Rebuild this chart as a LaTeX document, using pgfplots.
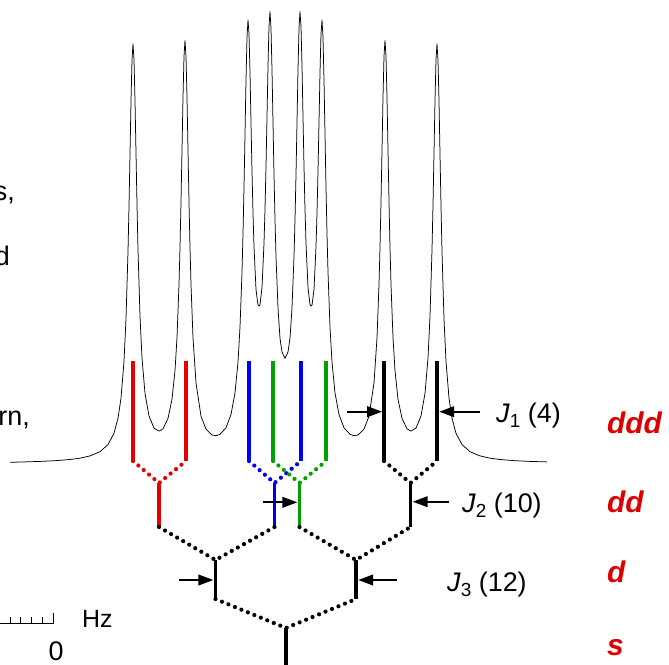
\documentclass[border=0pt]{standalone}
\usepackage{fontspec}
\setmainfont{Liberation Sans}
\usepackage{pgfplots}
\pgfplotsset{compat=1.18}
\usetikzlibrary{arrows.meta}

\definecolor{tred}{RGB}{228,0,0}
\definecolor{tblue}{RGB}{0,0,240}
\definecolor{tgreen}{RGB}{0,160,0}
\definecolor{lblred}{RGB}{220,0,0}

\tikzset{
  stick/.style={line width=3.6bp, line cap=butt},
  treedots/.style={line width=4.2bp, line cap=round, dash pattern=on 0bp off 7bp},
  jarrow/.style={black, line width=2.2bp, -{Triangle[length=15bp,width=10.5bp]}},
  spec/.style={black, line width=0.75bp, line join=round},
}
\newcommand\jfont{\fontsize{27}{30}\selectfont}
\newcommand\mfont{\fontsize{30}{34}\selectfont\bfseries\itshape}
\newcommand\Jlab[2]{\textit{J}\raisebox{-5bp}{\fontsize{19}{20}\selectfont #1}\ (#2)}

\begin{document}
\begin{tikzpicture}
\begin{axis}[
  width=669bp, height=665bp, scale only axis,
  xmin=0, xmax=669, ymin=0, ymax=665, y dir=reverse,
  hide axis, clip=false,
]
\coordinate (bbA) at (axis cs:0,665);
\coordinate (bbB) at (axis cs:669,0);

% spectrum: eight Lorentzian lines of the ddd multiplet
\addplot[spec] coordinates {
(10,462.3) (25,461.9) (40,461.4) (55,460.7) (70,459.5) (80,458.2) (90,455.9)
(100,451.7) (108,444.6) (114,433.3) (118,418.3) (121,398.2) (124,361.5)
(126,319.0) (128,251.6) (129,206.0) (130,153.9) (131,101.2) (132,59.9)
(133,43.8) (134,59.5) (135,100.5) (136,152.8) (137,204.6) (138,249.7)
(140,316.3) (142,358.1) (145,393.4) (149,416.0) (154,428.1) (159,431.1)
(163,428.9) (168,418.3) (172,399.3) (175,370.7) (177,337.6) (179,284.5)
(180,247.3) (181,202.0) (182,150.1) (183,97.6) (184,56.3) (185,40.4)
(186,56.3) (187,97.5) (188,150.0) (189,202.0) (190,247.3) (191,284.6)
(193,337.8) (196,382.9) (201,416.2) (206,429.1) (212,435.0) (216,435.7)
(220,434.3) (226,427.8) (231,414.5) (235,392.9) (238,362.0) (240,327.2)
(242,272.1) (243,233.8) (244,187.3) (245,134.1) (246,80.2) (247,37.5)
(248,19.9) (249,33.7) (250,72.6) (251,122.5) (252,171.4) (253,213.3)
(254,246.6) (256,289.6) (258,305.2) (259,306.1) (260,304.5) (262,287.6)
(264,243.3) (265,209.4) (266,166.7) (267,116.9) (268,66.2) (269,26.4)
(270,11.6) (271,28.3) (272,69.9) (273,122.6) (274,174.6) (275,219.7)
(276,256.5) (278,307.9) (280,338.3) (282,352.0) (285,358.4)
(288,352.0) (290,338.3) (292,307.9) (294,256.5) (295,219.7) (296,174.6)
(297,122.6) (298,69.9) (299,28.3) (300,11.6) (301,26.4) (302,66.2)
(303,116.9) (304,166.7) (305,209.4) (306,243.3) (308,287.6) (310,304.5)
(311,306.1) (312,305.2) (314,289.6) (316,246.6) (317,213.3) (318,171.4)
(319,122.5) (320,72.6) (321,33.7) (322,19.9) (323,37.5) (324,80.2)
(325,134.1) (326,187.3) (327,233.8) (328,272.1) (330,327.2) (332,362.0)
(335,392.9) (339,414.5) (344,427.8) (350,434.3) (354,435.7) (358,435.0)
(364,429.1) (369,416.2) (374,382.9) (377,337.8) (379,284.6) (380,247.3)
(381,202.0) (382,150.0) (383,97.5) (384,56.3) (385,40.4) (386,56.3)
(387,97.6) (388,150.1) (389,202.0) (390,247.3) (391,284.5) (393,337.6)
(395,370.7) (398,399.3) (402,418.3) (407,428.9) (411,431.1) (416,428.1)
(421,416.0) (425,393.4) (428,358.1) (430,316.3) (432,249.7) (433,204.6)
(434,152.8) (435,100.5) (436,59.5) (437,43.8) (438,59.9) (439,101.2)
(440,153.9) (441,206.0) (442,251.6) (444,319.0) (446,361.5) (449,398.2)
(452,418.3) (456,433.3) (462,444.6) (470,451.7) (480,455.9) (490,458.2)
(500,459.5) (515,460.7) (530,461.4) (547,461.9)
};

% splitting tree: ddd level (J1)
\addplot[stick, tred]   coordinates {(133,361) (133,461)};
\addplot[stick, tred]   coordinates {(186,361) (186,461)};
\addplot[stick, tblue]  coordinates {(249,361) (249,461)};
\addplot[stick, tgreen] coordinates {(273,361) (273,461)};
\addplot[stick, tblue]  coordinates {(301,361) (301,461)};
\addplot[stick, tgreen] coordinates {(326,361) (326,461)};
\addplot[stick, black]  coordinates {(384,361) (384,461)};
\addplot[stick, black]  coordinates {(437,361) (437,461)};

\addplot[treedots, tred]   coordinates {(133,461) (159,483) (186,461)};
\addplot[treedots, tblue]  coordinates {(249,461) (274.5,483) (301,461)};
\addplot[treedots, tgreen] coordinates {(273,461) (299.5,483) (326,461)};
\addplot[treedots, black]  coordinates {(384,461) (410.5,483) (437,461)};

% dd level (J2)
\addplot[stick, tred]   coordinates {(159,483) (159,527)};
\addplot[stick, tblue]  coordinates {(274.5,483) (274.5,527)};
\addplot[stick, tgreen] coordinates {(299.5,483) (299.5,527)};
\addplot[stick, black]  coordinates {(410.5,483) (410.5,527)};

\addplot[treedots, black] coordinates {(159,527) (215.5,560) (274.5,527)};
\addplot[treedots, black] coordinates {(299.5,527) (356,560) (410.5,527)};

% d level (J3)
\addplot[stick, black] coordinates {(215.5,560) (215.5,599)};
\addplot[stick, black] coordinates {(356,560) (356,599)};

\addplot[treedots, black] coordinates {(215.5,599) (286,628) (356,599)};

% s level
\addplot[stick, black] coordinates {(286,628) (286,668)};

% coupling arrows
\addplot[jarrow] coordinates {(347,411.7) (382.2,411.7)};
\addplot[jarrow] coordinates {(480,411.7) (439.2,411.7)};
\addplot[jarrow] coordinates {(449,501.7) (412.6,501.7)};
\addplot[jarrow] coordinates {(262.7,502.3) (297.4,502.3)};
\addplot[jarrow] coordinates {(179,580) (213.4,580)};
\addplot[jarrow] coordinates {(397,580) (358.1,580)};

% scale bar
\addplot[black, line width=1bp] coordinates {(-3,623.5) (53,623.5) (53,612.5)};
\addplot[black, line width=1bp] coordinates {(10.2,623.5) (10.2,617)};
\addplot[black, line width=1bp] coordinates {(20.9,623.5) (20.9,617)};
\addplot[black, line width=1bp] coordinates {(31.6,623.5) (31.6,617)};
\addplot[black, line width=1bp] coordinates {(42.3,623.5) (42.3,617)};

\node[anchor=base west, inner sep=0, font=\fontsize{25}{28}\selectfont] at (axis cs:82,627) {Hz};
\node[anchor=base, inner sep=0, font=\jfont] at (axis cs:56,660) {0};

% coupling labels
\node[anchor=base west, inner sep=0, font=\jfont] at (axis cs:496,422) {\Jlab{1}{4}};
\node[anchor=base west, inner sep=0, font=\jfont] at (axis cs:462,512) {\Jlab{2}{10}};
\node[anchor=base west, inner sep=0, font=\jfont] at (axis cs:447,591) {\Jlab{3}{12}};

% multiplicity labels
\node[anchor=base west, inner sep=0, font=\mfont, text=lblred] at (axis cs:607,433) {ddd};
\node[anchor=base west, inner sep=0, font=\mfont, text=lblred] at (axis cs:607,512) {dd};
\node[anchor=base west, inner sep=0, font=\mfont, text=lblred] at (axis cs:607,582) {d};
\node[anchor=base west, inner sep=0, font=\mfont, text=lblred] at (axis cs:607,655) {s};

% running text at the left margin
\node[anchor=base east, inner sep=0, font=\jfont] at (axis cs:15,200) {s,};
\node[anchor=base east, inner sep=0, font=\jfont] at (axis cs:10,265) {d};
\node[anchor=base east, inner sep=0, font=\jfont] at (axis cs:30,425) {rn,};
\end{axis}
\pgfresetboundingbox
\useasboundingbox (bbA) rectangle (bbB);
\end{tikzpicture}
\end{document}
